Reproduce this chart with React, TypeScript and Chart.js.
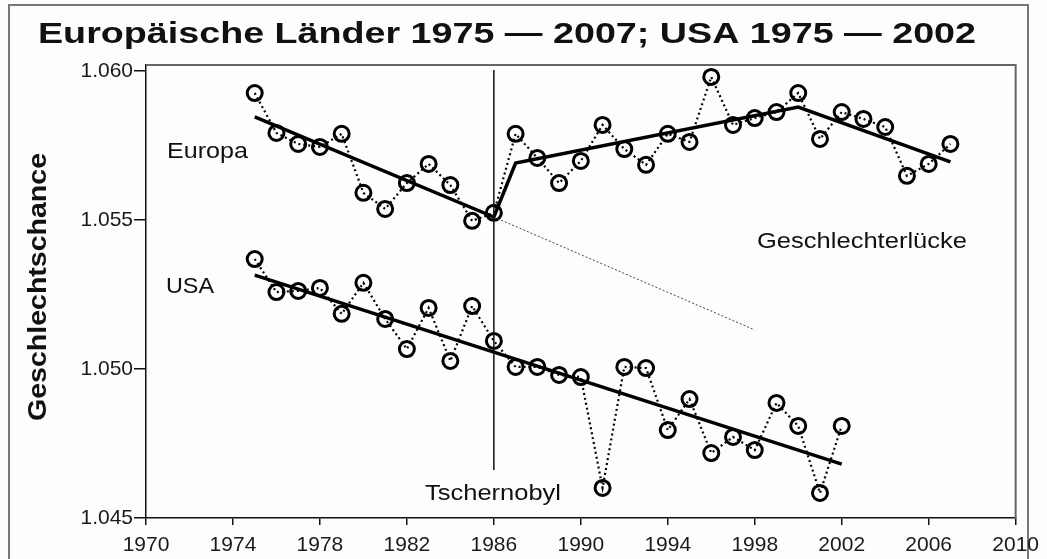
import React, { useEffect, useRef } from "react";
import { Chart, registerables } from "chart.js";

Chart.register(...registerables);

// ---- Data ----
const europeYears = [1975, 1976, 1977, 1978, 1979, 1980, 1981, 1982, 1983, 1984, 1985, 1986, 1987, 1988, 1989, 1990, 1991, 1992, 1993, 1994, 1995, 1996, 1997, 1998, 1999, 2000, 2001, 2002, 2003, 2004, 2005, 2006, 2007];
const europeValues = [1.05926, 1.05792, 1.05755, 1.05745, 1.05789, 1.05591, 1.05537, 1.05624, 1.05688, 1.05617, 1.05497, 1.05524, 1.05789, 1.05708, 1.05624, 1.05698, 1.05819, 1.05738, 1.05685, 1.05789, 1.05762, 1.0598, 1.05819, 1.05842, 1.05862, 1.05926, 1.05772, 1.05862, 1.05839, 1.05812, 1.05648, 1.05688, 1.05755];

const usaYears = [1975, 1976, 1977, 1978, 1979, 1980, 1981, 1982, 1983, 1984, 1985, 1986, 1987, 1988, 1989, 1990, 1991, 1992, 1993, 1994, 1995, 1996, 1997, 1998, 1999, 2000, 2001, 2002];
const usaValues = [1.05369, 1.05258, 1.05262, 1.05272, 1.05185, 1.05289, 1.05168, 1.05067, 1.05205, 1.05027, 1.05211, 1.05094, 1.05007, 1.05007, 1.0498, 1.04973, 1.04601, 1.05007, 1.05003, 1.04795, 1.04899, 1.04718, 1.04772, 1.04728, 1.04886, 1.04809, 1.04584, 1.04809];

const europeTrendYears = [1975, 1986, 1987, 2000, 2007];
const europeTrendValues = [1.05846, 1.0551, 1.05691, 1.05879, 1.05695];

const projectionYears = [1986, 1998];
const projectionValues = [1.0551, 1.05131];

const usaTrendYears = [1975, 2002];
const usaTrendValues = [1.05315, 1.04681];

const chernobylYears = [1986, 1986];
const chernobylValues = [1.04661, 1.06003];

const xTickYears = [1970, 1974, 1978, 1982, 1986, 1990, 1994, 1998, 2002, 2006, 2010];
const yTickValues = [1.045, 1.05, 1.055, 1.06];

const titleText = "Europäische Länder 1975 — 2007; USA 1975 — 2002";
const yAxisTitle = "Geschlechtschance";

const toPoints = (xs: number[], ys: number[]) => xs.map((x, i) => ({ x, y: ys[i] }));

const FONT = '"Liberation Sans", Arial, Helvetica, sans-serif';

function drawFitted(ctx: CanvasRenderingContext2D, text: string, left: number, right: number, baseline: number, font: string) {
  ctx.save();
  ctx.font = font;
  const w = ctx.measureText(text).width;
  const sx = (right - left) / w;
  ctx.translate(left, baseline);
  ctx.scale(sx, 1);
  ctx.textAlign = "left";
  ctx.textBaseline = "alphabetic";
  ctx.fillStyle = "#111";
  ctx.fillText(text, 0, 0);
  ctx.restore();
}

const decorPlugin = {
  id: "decor",
  beforeDraw(chart: any) {
    const ctx = chart.ctx as CanvasRenderingContext2D;
    ctx.save();
    ctx.fillStyle = "#fdfdfd";
    ctx.fillRect(0, 0, chart.width, chart.height);
    ctx.strokeStyle = "#777";
    ctx.lineWidth = 2;
    ctx.beginPath();
    ctx.moveTo(9, 560);
    ctx.lineTo(9, 5);
    ctx.lineTo(1028, 5);
    ctx.lineTo(1028, 560);
    ctx.stroke();
    ctx.restore();
  },
  afterDraw(chart: any) {
    const ctx = chart.ctx as CanvasRenderingContext2D;
    const a = chart.chartArea;
    ctx.save();
    ctx.strokeStyle = "#666";
    ctx.lineWidth = 2;
    ctx.beginPath();
    ctx.moveTo(a.left, a.top);
    ctx.lineTo(a.right, a.top);
    ctx.lineTo(a.right, a.bottom);
    ctx.stroke();
    ctx.restore();

    drawFitted(ctx, titleText, 38, 976, 43, `bold 30px ${FONT}`);
    drawFitted(ctx, "Europa", 167, 248, 158, `22px ${FONT}`);
    drawFitted(ctx, "USA", 166, 214, 293, `22px ${FONT}`);
    drawFitted(ctx, "Geschlechterlücke", 757, 967, 248, `22px ${FONT}`);
    drawFitted(ctx, "Tschernobyl", 425, 561, 500, `22px ${FONT}`);

    ctx.save();
    ctx.translate(46, 421);
    ctx.rotate(-Math.PI / 2);
    drawFitted(ctx, yAxisTitle, 0, 268, 0, `bold 26px ${FONT}`);
    ctx.restore();
  },
};

export default function App() {
  const ref = useRef<HTMLCanvasElement | null>(null);

  useEffect(() => {
    if (!ref.current) return;
    const pointStyle = {
      showLine: true,
      borderColor: "#000",
      borderWidth: 2.2,
      borderDash: [2, 3],
      pointRadius: 7.5,
      pointBorderWidth: 3,
      pointBorderColor: "#000",
      pointBackgroundColor: "rgba(0,0,0,0)",
    };
    const chart = new Chart(ref.current, {
      type: "scatter",
      data: {
        datasets: [
          {
            label: "Tschernobyl",
            data: toPoints(chernobylYears, chernobylValues),
            showLine: true,
            borderColor: "#111",
            borderWidth: 1.5,
            pointRadius: 0,
          },
          {
            label: "Projektion",
            data: toPoints(projectionYears, projectionValues),
            showLine: true,
            borderColor: "#444",
            borderWidth: 1,
            borderDash: [2, 2],
            pointRadius: 0,
          },
          {
            label: "Europa Trend",
            data: toPoints(europeTrendYears, europeTrendValues),
            showLine: true,
            borderColor: "#000",
            borderWidth: 3.5,
            pointRadius: 0,
          },
          {
            label: "USA Trend",
            data: toPoints(usaTrendYears, usaTrendValues),
            showLine: true,
            borderColor: "#000",
            borderWidth: 3.5,
            pointRadius: 0,
          },
          { label: "Europa", data: toPoints(europeYears, europeValues), ...pointStyle },
          { label: "USA", data: toPoints(usaYears, usaValues), ...pointStyle },
        ],
      },
      options: {
        animation: false,
        responsive: false,
        layout: { padding: { top: 65, right: 31, left: 0, bottom: 0 } },
        plugins: {
          legend: { display: false },
          tooltip: { enabled: false },
          title: { display: false },
        },
        scales: {
          x: {
            type: "linear",
            min: 1970,
            max: 2010,
            afterBuildTicks: (s: any) => {
              s.ticks = xTickYears.map((v) => ({ value: v }));
            },
            afterFit: (s: any) => {
              s.height = 41;
            },
            border: { display: true, color: "#111", width: 1.5 },
            grid: { drawOnChartArea: false, drawTicks: true, tickLength: 7, color: "#111", lineWidth: 1.5 },
            ticks: {
              color: "#1a1a1a",
              font: { family: FONT, size: 21 },
              padding: 8,
              maxRotation: 0,
              autoSkip: false,
              callback: (v: any) => String(v),
            },
          },
          y: {
            type: "linear",
            min: 1.045,
            max: 1.0602,
            afterBuildTicks: (s: any) => {
              s.ticks = yTickValues.map((v) => ({ value: v }));
            },
            afterFit: (s: any) => {
              s.width = 146;
            },
            border: { display: true, color: "#111", width: 1.5 },
            grid: { drawOnChartArea: false, drawTicks: true, tickLength: 12, color: "#111", lineWidth: 1.5 },
            ticks: {
              color: "#1a1a1a",
              font: { family: FONT, size: 21 },
              padding: 1,
              autoSkip: false,
              callback: (v: any) => Number(v).toFixed(3),
            },
          },
        },
      },
      plugins: [decorPlugin],
    } as any);
    return () => chart.destroy();
  }, []);

  return (
    <div style={{ position: "fixed", left: 0, top: 0, width: 1047, height: 559, background: "#fff" }}>
      <canvas ref={ref} width={1047} height={559} style={{ display: "block" }} />
    </div>
  );
}
